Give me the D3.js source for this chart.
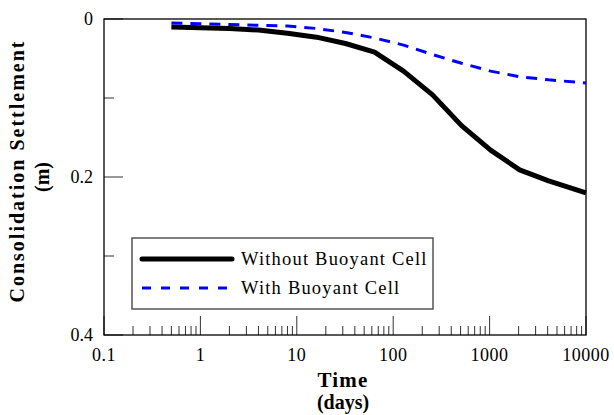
<!DOCTYPE html>
<html lang="en">
<head>
<meta charset="UTF-8">
<title>Consolidation Settlement</title>
<script src="https://d3js.org/d3.v7.min.js"></script>
<style>
    body { margin: 0; background: #fff; }
</style>
</head>
<body>
<svg id="chart" width="614" height="415" font-family='"Liberation Serif", "Times New Roman", serif'></svg>
<script>
// time (days) and settlement (m)
const days = [0.5, 1, 2, 4, 8, 16, 32, 64, 128, 256, 512, 1024, 2048, 4096, 10000];
const withoutCell = [0.010, 0.011, 0.012, 0.014, 0.018, 0.023, 0.031, 0.042, 0.066, 0.096, 0.135, 0.166, 0.191, 0.205, 0.220];
const withCell = [0.005, 0.006, 0.007, 0.008, 0.009, 0.012, 0.017, 0.024, 0.033, 0.045, 0.056, 0.066, 0.073, 0.077, 0.081];
const xTicks = [0.1, 1, 10, 100, 1000, 10000];
const yTicks = [0, 0.1, 0.2, 0.3, 0.4];
const yLabels = [0, 0.2, 0.4];
const seriesNames = ["Without Buoyant Cell", "With Buoyant Cell"];

const FONT = '"Liberation Serif", "Times New Roman", serif';
const svg = d3.select("#chart");
const margin = { top: 19, right: 28, bottom: 80, left: 104 };
const width = 614 - margin.left - margin.right,
      height = 415 - margin.top - margin.bottom;
const g = svg.append("g").attr("transform", `translate(${margin.left},${margin.top})`);

const x = d3.scaleLog().domain([0.1, 10000]).range([0, width]);
const y = d3.scaleLinear().domain([0, 0.4]).range([0, height]);

// minor ticks on x (2..9 per decade)
const minorX = [];
for (let dec = 0.1; dec < 10000; dec *= 10) {
    for (let k = 2; k <= 9; k++) minorX.push(+(dec * k).toPrecision(3));
}

g.append("g").selectAll("line").data(minorX).join("line")
    .attr("x1", d => x(d)).attr("x2", d => x(d))
    .attr("y1", height).attr("y2", height - 9)
    .attr("stroke", "#333").attr("stroke-width", 1);
g.append("g").selectAll("line").data(xTicks).join("line")
    .attr("x1", d => x(d)).attr("x2", d => x(d))
    .attr("y1", height).attr("y2", height - 19)
    .attr("stroke", "#333").attr("stroke-width", 1);

g.append("g").selectAll("line").data(yTicks).join("line")
    .attr("x1", 0).attr("x2", d => yLabels.includes(d) ? 19 : 10)
    .attr("y1", d => y(d)).attr("y2", d => y(d))
    .attr("stroke", "#333").attr("stroke-width", 1);

// frame
g.append("rect")
    .attr("width", width).attr("height", height)
    .attr("fill", "none").attr("stroke", "#000").attr("stroke-width", 1.3);

// tick labels
g.append("g").selectAll("text").data(xTicks).join("text")
    .attr("font-family", FONT)
    .attr("x", d => x(d)).attr("y", height + 26)
    .attr("text-anchor", "middle").attr("font-size", 18)
    .attr("letter-spacing", 0.5)
    .text(d => d);
g.append("g").selectAll("text").data(yLabels).join("text")
    .attr("font-family", FONT)
    .attr("x", -11).attr("y", d => y(d) + 6)
    .attr("text-anchor", "end").attr("font-size", 18)
    .text(d => d);

// axis titles
g.append("text").attr("font-family", FONT).attr("x", width / 2 - 2).attr("y", height + 52)
    .attr("text-anchor", "middle").attr("font-size", 21).attr("font-weight", "bold")
    .attr("letter-spacing", 1.2).text("Time");
g.append("text").attr("font-family", FONT).attr("x", width / 2 - 2).attr("y", height + 74)
    .attr("text-anchor", "middle").attr("font-size", 20).attr("font-weight", "bold")
    .text("(days)");
svg.append("text").attr("font-family", FONT).attr("transform", "translate(24,171) rotate(-90)")
    .attr("text-anchor", "middle").attr("font-size", 20).attr("font-weight", "bold")
    .attr("letter-spacing", 2).text("Consolidation Settlement");
svg.append("text").attr("font-family", FONT).attr("transform", "translate(49,177) rotate(-90)")
    .attr("text-anchor", "middle").attr("font-size", 20).attr("font-weight", "bold")
    .text("(m)");

// lines
const line = vals => d3.line()
    .x((d, i) => x(d))
    .y((d, i) => y(vals[i]))(days);

g.append("path").attr("d", line(withoutCell))
    .attr("fill", "none").attr("stroke", "#000").attr("stroke-width", 5)
    .attr("stroke-linejoin", "round");
g.append("path").attr("d", line(withCell))
    .attr("fill", "none").attr("stroke", "#0000ff").attr("stroke-width", 3)
    .attr("stroke-dasharray", "11,8");

// legend
const lg = svg.append("g").attr("transform", "translate(132,238)");
lg.append("rect").attr("width", 301).attr("height", 71)
    .attr("fill", "#fff").attr("stroke", "#555").attr("stroke-width", 1.5);
const styles = [
    { stroke: "#000", w: 5, dash: null },
    { stroke: "#0000ff", w: 3, dash: "9,10" }
];
seriesNames.forEach((name, i) => {
    const yy = 21 + i * 29;
    lg.append("line").attr("x1", 10).attr("x2", 100).attr("y1", yy).attr("y2", yy)
        .attr("stroke", styles[i].stroke).attr("stroke-width", styles[i].w)
        .attr("stroke-linecap", i === 0 ? "round" : "butt")
        .attr("stroke-dasharray", styles[i].dash);
    lg.append("text").attr("font-family", FONT).attr("x", 109).attr("y", yy + 6).attr("font-size", 18.5)
        .attr("letter-spacing", 1.2).text(name);
});
</script>
</body>
</html>
